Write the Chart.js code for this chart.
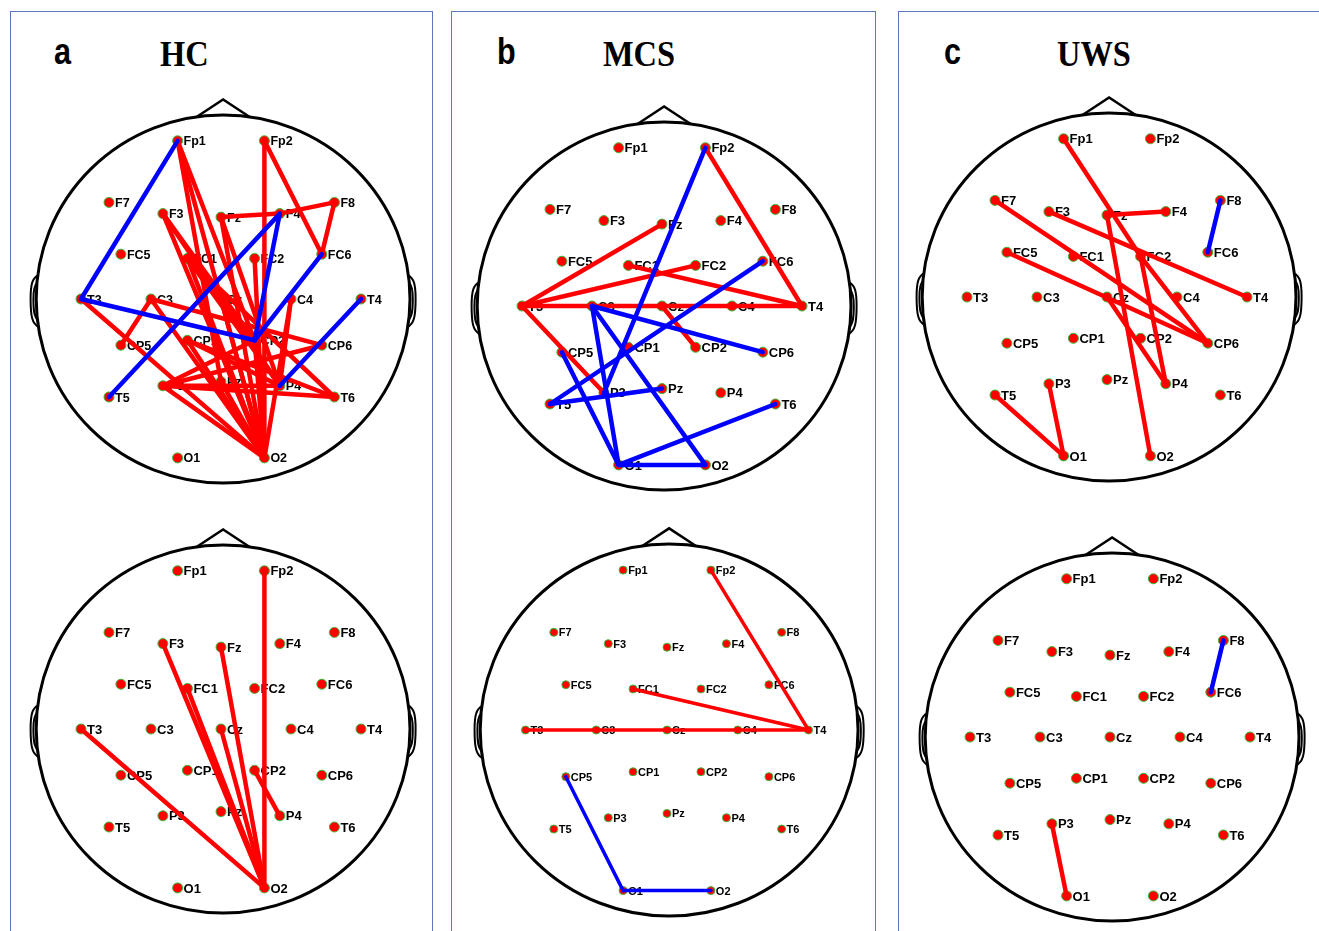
<!DOCTYPE html>
<html>
<head>
<meta charset="utf-8">
<script src="https://cdn.jsdelivr.net/npm/chart.js@4.4.1/dist/chart.umd.min.js"></script>
<style>
  body { margin: 0; width: 1319px; height: 931px; overflow: hidden; background: #fff; position: relative; }
  .panel { position: absolute; top: 11px; height: 940px; border: 1px solid #5a78bd; box-sizing: border-box; }
  .letter { position: absolute; font: bold 36px "Liberation Sans", Arial, sans-serif; line-height: 36px; transform: scaleX(0.85); transform-origin: left top; }
  .title { position: absolute; font: bold 36px "Liberation Serif", "Times New Roman", serif; line-height: 36px; transform: scaleX(0.9); transform-origin: left top; }
  canvas { position: absolute; }
</style>
</head>
<body>
<div class="panel" style="left:10px;width:423px"></div>
<div class="panel" style="left:451px;width:425px"></div>
<div class="panel" style="left:898px;width:440px"></div>
<div class="letter" style="left:54px;top:34px">a</div>
<div class="title" style="left:160px;top:36px">HC</div>
<div class="letter" style="left:497px;top:34px">b</div>
<div class="title" style="left:603px;top:36px">MCS</div>
<div class="letter" style="left:944px;top:34px">c</div>
<div class="title" style="left:1057px;top:36px">UWS</div>

<script>
// electrode layout (head units, T3/T4 = -1/+1, nose up)
const ELECTRODES = ['Fp1','Fp2','F7','F3','Fz','F4','F8','FC5','FC1','FC2','FC6',
  'T3','C3','Cz','C4','T4','CP5','CP1','CP2','CP6','T5','P3','Pz','P4','T6','O1','O2'];
const ELEC_X = [-0.31, 0.31, -0.80, -0.415, 0, 0.42, 0.81, -0.715, -0.24, 0.24, 0.72,
  -1, -0.5, 0, 0.5, 1, -0.715, -0.24, 0.24, 0.72, -0.80, -0.415, 0, 0.42, 0.81, -0.31, 0.31];
const ELEC_Y = [1.13, 1.13, 0.69, 0.61, 0.585, 0.61, 0.69, 0.32, 0.29, 0.29, 0.32,
  0, 0, 0, 0, 0, -0.33, -0.295, -0.295, -0.33, -0.70, -0.62, -0.59, -0.62, -0.70, -1.135, -1.135];

// connections (red / blue)
const HC_TOP_RED = ['Fp1-Pz','Fp1-O2','Fp1-CP2','Fp2-O2','Fp2-FC6','Fz-F4','F4-F8','F8-FC6',
  'F3-O2','F3-P4','F3-CP2','Fz-O2','Fz-P4','FC1-O2','FC1-P4','FC1-CP2','FC1-T6','FC2-O2',
  'T3-O2','C3-CP5','C3-CP6','C3-O2','Cz-O2','Cz-P4','C4-O2','C4-P4',
  'CP1-O2','CP1-P4','CP1-T6','P3-CP6','P3-CP2','P3-P4','P3-T6','P3-O2','Pz-O2','CP2-O2'];
const HC_TOP_BLUE = ['Fp1-T3','T3-CP2','CP2-F4','CP2-FC6','T5-F4','T4-P4'];
const HC_BOTTOM_RED = ['Fp2-O2','F3-O2','FC1-O2','Fz-O2','Cz-O2','T3-O2','CP2-P4'];
const HC_BOTTOM_BLUE = [];
const MCS_TOP_RED = ['Fp2-T4','T3-Fz','T3-FC2','FC1-T4','T3-T4','T3-P3','Cz-CP2'];
const MCS_TOP_BLUE = ['Fp2-P3','FC6-T5','C3-O1','C3-O2','C3-CP6','CP5-O1','T5-Pz','O1-O2','O1-T6'];
const MCS_BOTTOM_RED = ['Fp2-T4','FC1-T4','T3-T4'];
const MCS_BOTTOM_BLUE = ['CP5-O1','O1-O2'];
const UWS_TOP_RED = ['Fp1-FC2','Fz-F4','Fz-O2','F7-CP6','F3-T4','FC5-CP6','FC2-CP6','FC2-P4',
  'Cz-P4','T5-O1','P3-O1'];
const UWS_TOP_BLUE = ['F8-FC6'];
const UWS_BOTTOM_RED = ['P3-O1'];
const UWS_BOTTOM_BLUE = ['F8-FC6'];

const HEADS = [
  { cx: 221, cy: 299, s: 140, r: 5, fs: 12.5, lw: 4.5, red: HC_TOP_RED, blue: HC_TOP_BLUE },
  { cx: 221, cy: 729, s: 140, r: 5, fs: 13, lw: 4.5, red: HC_BOTTOM_RED, blue: HC_BOTTOM_BLUE },
  { cx: 662, cy: 306, s: 140, r: 5, fs: 13, lw: 4.5, red: MCS_TOP_RED, blue: MCS_TOP_BLUE },
  { cx: 667, cy: 730, s: 141.5, r: 4, fs: 11, lw: 3.5, red: MCS_BOTTOM_RED, blue: MCS_BOTTOM_BLUE },
  { cx: 1107, cy: 297, s: 140, r: 5, fs: 13, lw: 4.5, red: UWS_TOP_RED, blue: UWS_TOP_BLUE },
  { cx: 1110, cy: 737, s: 140, r: 5, fs: 13, lw: 4.5, red: UWS_BOTTOM_RED, blue: UWS_BOTTOM_BLUE }
];

const SIZE = 420;

function edgePoints(pair) {
  const [a, b] = pair.split('-');
  const i = ELECTRODES.indexOf(a), j = ELECTRODES.indexOf(b);
  return [{ x: ELEC_X[i], y: ELEC_Y[i] }, { x: ELEC_X[j], y: ELEC_Y[j] }];
}

// head outline, nose, ears and electrode names
const headPlugin = {
  id: 'head',
  beforeDatasetsDraw(chart) {
    const { ctx, scales: { x, y } } = chart;
    const X = v => x.getPixelForValue(v), Y = v => y.getPixelForValue(v);
    const c = 0.015;
    ctx.save();
    ctx.strokeStyle = '#000';
    ctx.lineWidth = 3;
    ctx.beginPath();
    ctx.ellipse(X(c), Y(0), X(1.335) - X(0), Y(0) - Y(1.315), 0, 0, Math.PI * 2);
    ctx.stroke();
    // nose
    ctx.lineWidth = 2.5;
    ctx.lineJoin = 'miter';
    ctx.beginPath();
    ctx.moveTo(X(c - 0.19), Y(1.30));
    ctx.lineTo(X(c), Y(1.425));
    ctx.lineTo(X(c + 0.19), Y(1.30));
    ctx.stroke();
    // ears
    ctx.lineWidth = 2;
    [-1, 1].forEach(side => {
      const ex = v => X(c + side * v);
      ctx.beginPath();
      ctx.moveTo(ex(1.318), Y(0.17));
      ctx.bezierCurveTo(ex(1.365), Y(0.15), ex(1.375), Y(0.10), ex(1.375), Y(0.0));
      ctx.bezierCurveTo(ex(1.375), Y(-0.12), ex(1.365), Y(-0.18), ex(1.315), Y(-0.20));
      ctx.stroke();
      ctx.beginPath();
      ctx.moveTo(ex(1.325), Y(0.12));
      ctx.bezierCurveTo(ex(1.35), Y(0.10), ex(1.355), Y(0.05), ex(1.355), Y(0.0));
      ctx.bezierCurveTo(ex(1.355), Y(-0.08), ex(1.35), Y(-0.13), ex(1.322), Y(-0.15));
      ctx.stroke();
    });
    ctx.restore();
  },
  afterDatasetDraw(chart, args, opts) {
    if (chart.data.datasets[args.index].label !== 'electrodes') return;
    const { ctx } = chart;
    ctx.save();
    ctx.fillStyle = '#000';
    ctx.font = 'bold ' + opts.fs + 'px "Liberation Sans", Arial, sans-serif';
    ctx.textBaseline = 'alphabetic';
    args.meta.data.forEach((pt, i) => {
      ctx.fillText(ELECTRODES[i], pt.x + opts.r + 1, pt.y + opts.fs * 0.36);
    });
    ctx.restore();
  }
};

HEADS.forEach(h => {
  const canvas = document.createElement('canvas');
  canvas.width = SIZE;
  canvas.height = SIZE;
  canvas.style.left = (h.cx - SIZE / 2) + 'px';
  canvas.style.top = (h.cy - SIZE / 2) + 'px';
  document.body.appendChild(canvas);

  const half = SIZE / 2 / h.s;
  const datasets = [{
    label: 'electrodes',
    data: ELECTRODES.map((n, i) => ({ x: ELEC_X[i], y: ELEC_Y[i] })),
    pointRadius: h.r,
    pointBackgroundColor: '#ff0000',
    pointBorderColor: '#3cb83c',
    pointBorderWidth: 1,
    showLine: false,
    order: 3
  }];
  h.red.forEach(p => datasets.push({
    label: p, data: edgePoints(p), showLine: true, pointRadius: 0,
    borderColor: '#ff0000', borderWidth: h.lw, borderCapStyle: 'round', order: 2
  }));
  h.blue.forEach(p => datasets.push({
    label: p, data: edgePoints(p), showLine: true, pointRadius: 0,
    borderColor: '#0000ff', borderWidth: h.lw, borderCapStyle: 'round', order: 1
  }));

  new Chart(canvas.getContext('2d'), {
    type: 'scatter',
    data: { datasets },
    options: {
      responsive: false,
      animation: false,
      events: [],
      layout: { padding: 0, autoPadding: false },
      plugins: {
        legend: { display: false },
        tooltip: { enabled: false },
        head: { fs: h.fs, r: h.r }
      },
      scales: {
        x: { type: 'linear', min: -half, max: half, display: false },
        y: { type: 'linear', min: -half, max: half, display: false }
      }
    },
    plugins: [headPlugin]
  });
});
</script>
</body>
</html>
